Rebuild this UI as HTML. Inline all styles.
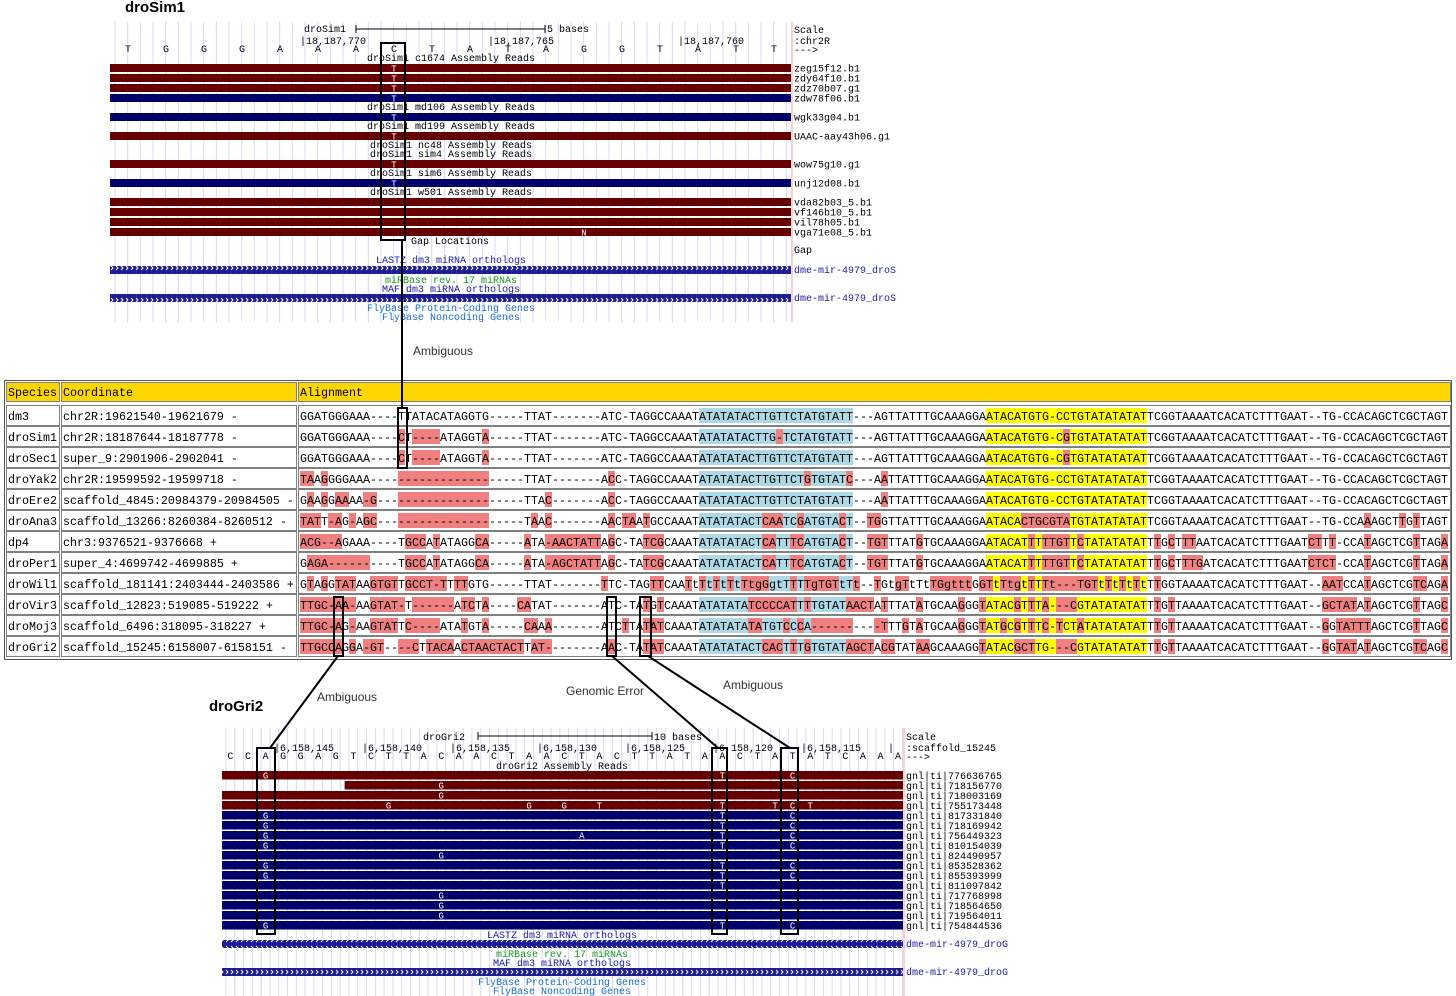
<!DOCTYPE html>
<html><head><meta charset="utf-8">
<style>
html,body{margin:0;padding:0;background:#fff;}
svg{display:block;}
.m{font-family:"Liberation Mono",monospace;}
.s{font-family:"Liberation Sans",sans-serif;}
</style></head>
<body>
<svg id="fig" width="1456" height="996" viewBox="0 0 1456 996" xmlns="http://www.w3.org/2000/svg">
<defs>
<pattern id="chev" x="0" y="0" width="5" height="8" patternUnits="userSpaceOnUse">
<rect width="5" height="8" fill="#1c1c96"/>
<path d="M1,2 L3,4 L1,6" stroke="#fff" stroke-width="1" fill="none"/>
</pattern>
</defs>
<g id="top"></g>
<g id="bot"></g>
<g id="tbl"></g>
<g id="ann"></g>
</svg>
<script>
const species=["dm3","droSim1","droSec1","droYak2","droEre2","droAna3","dp4","droPer1","droWil1","droVir3","droMoj3","droGri2"];
const coords=["chr2R:19621540-19621679 -","chr2R:18187644-18187778 -","super_9:2901906-2902041 -","chr2R:19599592-19599718 -","scaffold_4845:20984379-20984505 -","scaffold_13266:8260384-8260512 -","chr3:9376521-9376668 +","super_4:4699742-4699885 +","scaffold_181141:2403444-2403586 +","scaffold_12823:519085-519222 +","scaffold_6496:318095-318227 +","scaffold_15245:6158007-6158151 -"];
const seqs=[
"GGATGGGAAA----TTATACATAGGTG-----TTAT-------ATC-TAGGCCAAATATATATACTTGTTCTATGTATT---AGTTATTTGCAAAGGAATACATGTG-CCTGTATATATATTCGGTAAAATCACATCTTTGAAT--TG-CCACAGCTCGCTAGT",
"GGATGGGAAA----CT----ATAGGTA-----TTAT-------ATC-TAGGCCAAATATATATACTTG-TCTATGTATT---AGTTATTTGCAAAGGAATACATGTG-CGTGTATATATATTCGGTAAAATCACATCTTTGAAT--TG-CCACAGCTCGCTAGT",
"GGATGGGAAA----CT----ATAGGTA-----TTAT-------ATC-TAGGCCAAATATATATACTTGTTCTATGTATT---AGTTATTTGCAAAGGAATACATGTG-CGTGTATATATATTCGGTAAAATCACATCTTTGAAT--TG-CCACAGCTCGCTAGT",
"TAAGGGGAAA----------------------TTAT-------ACC-TAGGCCAAATATATATACTTGTTCTGTGTATC---AATTATTTGCAAAGGAATACATGTG-CCTGTATATATATTCGGTAAAATCACATCTTTGAAT--TG-CCACAGCTCGCTAGT",
"GAAGGAAAA-G---------------------TTAC-------ACC-TAGGCCAAATATATATACTTGTTCTATGTATT---AATTATTTGCAAAGGAATACATGTG-CCTGTATATATATTCGGTAAAATCACATCTTTGAAT--TG-CCACAGCTCGCTAGT",
"TATT-AG-AGC---------------------TAAC-------AACTAATGCCAAATATATATACTCAATCGATGTACT--TGGTTATTTGCAAAGGAATACACTGCGTATGTATATATATTCGGTAAAATCACATCTTTGAAT--TG-CCAAAGCTTGTTAGT",
"ACG--AGAAA----TGCCATATAGGCA-----ATA-AACTATTAGC-TATCGCAAATATATATACTCATTTCATGTACT--TGTTTATGTGCAAAGGAATACATTTTTGTTCTATATATATTTGCTTTAATCACATCTTTGAATCTTT-CCATAGCTCGTTAGA",
"GAGA----------TGCCATATAGGCA-----ATA-AGCTATTAGC-TATCGCAAATATATATACTCATTTCATGTACT--TGTTTATGTGCAAAGGAATACATTTTTGTTCTATATATATTTGCTTTGATCACATCTTTGAATCTCT-CCATAGCTCGTTAGA",
"GTAGGTATAAGTGTTGCCT-TTTTGTG-----TTAT-------TTC-TAGTTCAATtTtTtTtTtgGgtTTTTgTGTtTt--TGtgTtTtTGgtttGGTtTtgtTTTt---TGTtTtTtTtTTGGTAAAATCACATCTTTGAAT--AATCCATAGCTCGTCAGA",
"TTGC-AA-AAGTAT-T------ATCTA----CATAT-------ATC-TATGTCAAATATATATATCCCCATTTTGTATAACTATTTATATGCAAGGGTATACGTTTA---CGTATATATATTTGTTAAAATCACATCTTTGAAT--GCTATATAGCTCGTTAGC",
["TTGC-AG-AAGTAT","TC----ATATGTA","-----CAAA","-------","ATCTTATATCAAAT","ATATATATATGTCCCA------","---","-TTTGTATGCAAGGGT","ATGCGTTTC-TCTATATATATAT","TTGTTAAAATCACATCTTTGAAT","--GGTATTTAGCTCGTTAGC"].join(""),
["TTGCCAGGA-GT--","--CTTACAACTAA","CTACTTAT-","-------","AAC-TATATCAAAT","ATATATACTCACTTTGTGTATA","GCT","ACGTATAAGCAAAGGT","ATACGCTTG---CGTATATATAT","TTGTTAAAATCACATCTTTGAAT","--GGTATATAGCTCGTCAGC"].join("")
];
// top browser data
const topBases="TGGGAAACTATAGGTATT".split("");
const topReads=[["zeg15f12.b1","m",64,"T",7],["zdy64f10.b1","m",74,"T",7],["zdz70b07.g1","m",84,"T",7],["zdw78f06.b1","n",94,"T",7],["wgk33g04.b1","n",113,"T",7],["UAAC-aay43h06.g1","m",132,"T",7],["wow75g10.g1","m",160,"T",7],["unj12d08.b1","n",179,"T",7],["vda82b03_5.b1","m",198,"",0],["vf146b10_5.b1","m",208,"",0],["vil78h05.b1","m",218,"",0],["vga71e08_5.b1","m",228,"N",12]];
const topTitles=[[58,"droSim1 c1674 Assembly Reads"],[107,"droSim1 md106 Assembly Reads"],[126,"droSim1 md199 Assembly Reads"],[145,"droSim1 nc48 Assembly Reads"],[154,"droSim1 sim4 Assembly Reads"],[173,"droSim1 sim6 Assembly Reads"],[192,"droSim1 w501 Assembly Reads"]];
// bottom browser data
const botBases="CCAGGAGTCTTACAACTAACTACTTATAACTATATCAAA".split("");
const botIds=["776636765","718156770","718003169","755173448","817331840","718169942","756449323","810154039","824490957","853528362","855393999","811097842","717768998","718564650","719564011","754844536"];
const botColors=["m","m","m","m","n","n","n","n","n","n","n","n","n","n","n","n"];
const botStart=[0,6.5,0,0,0,0,0,0,0,0,0,0,0,0,0,0];
const botSnps=[[[2,"G"],[28,"T"],[32,"C"]],[[12,"G"]],[[12,"G"]],[[9,"G"],[17,"G"],[19,"G"],[21,"T"],[28,"T"],[31,"T"],[32,"C"],[33,"T"]],[[2,"G"],[28,"T"],[32,"C"]],[[2,"G"],[28,"T"],[32,"C"]],[[2,"G"],[20,"A"],[28,"T"],[32,"C"]],[[2,"G"],[28,"T"],[32,"C"]],[[12,"G"]],[[2,"G"],[28,"T"],[32,"C"]],[[2,"G"],[28,"T"],[32,"C"]],[[28,"T"]],[[12,"G"]],[[12,"G"]],[[12,"G"]],[[2,"G"],[28,"T"],[32,"C"]]];

const NS="http://www.w3.org/2000/svg";
function mk(parent,tag,attrs,txt){const e=document.createElementNS(NS,tag);for(const k in attrs)e.setAttribute(k,attrs[k]);if(txt!==undefined)e.textContent=txt;parent.appendChild(e);return e;}
const MAROON="#660000",NAVY="#00006a";

function browser(g,o){
  for(let x=o.x0+o.gridOff;x<o.x1;x+=o.grid){const l=mk(g,"line",{x1:x,x2:x,y1:o.gy0,y2:o.gy1,stroke:"#d8d8f4","stroke-width":1});
    }
  const pl=mk(g,"line",{x1:o.x1+1,x2:o.x1+1,y1:o.gy0,y2:o.gy1,stroke:"#f0a0a0","stroke-width":1});
  
}
function txt(g,x,y,s,name,fill,anchor,size,cls){const t=mk(g,"text",{x:x,y:y,"font-size":size||10,fill:fill||"#000","text-anchor":anchor||"start",class:cls||"m"},s);
  return t;}

// ---------- TOP ----------
const T=document.getElementById("top");
browser(T,{x0:110,x1:791,gridOff:5,grid:38/3,gy0:22,gy1:322});
txt(T,125,12,"droSim1","browser-title-drosim1","#000","start",15,"s").setAttribute("font-weight","bold");
txt(T,304,32,"droSim1","scale-species");
mk(T,"line",{x1:356,x2:545,y1:29,y2:29,stroke:"#000"});mk(T,"line",{x1:356,x2:356,y1:25,y2:33,stroke:"#000"});mk(T,"line",{x1:545,x2:545,y1:25,y2:33,stroke:"#000"});
txt(T,547,32,"5 bases","scale-label");
[[300,"|18,187,770"],[488,"|18,187,765"],[678,"|18,187,760"]].forEach(c=>txt(T,c[0],44,c[1],"coordinate-tick"));
topBases.forEach((b,i)=>txt(T,128+38*i,52,b,"base-letter","#000","middle"));
txt(T,794,33,"Scale","scale-text");txt(T,794,44,":chr2R","chrom-label");txt(T,794,53,"--->","strand-arrow");
topTitles.forEach(t=>txt(T,451,t[0]+3,t[1],"track-title","#000","middle"));
topReads.forEach(r=>{const b=mk(T,"rect",{x:110,y:r[2],width:681,height:8,fill:r[1]=="m"?MAROON:NAVY});
  
  if(r[3])txt(T,128+38*r[4],r[2]+7.5,r[3],"read-base","#fff","middle",9);
  txt(T,794,r[2]+7.5,r[0],"read-name");});
txt(T,411,244,"Gap Locations","track-title");txt(T,794,253,"Gap","gap-label");
txt(T,451,263,"LASTZ dm3 miRNA orthologs","track-title","#2020a0","middle");
[[266,"dme-mir-4979_droS"],[294,"dme-mir-4979_droS"]].forEach(c=>{const b=mk(T,"rect",{x:110,y:c[0],width:681,height:8,fill:"url(#chev)"});
  
  txt(T,794,c[0]+7,c[1],"mirna-label","#2020a0");});
txt(T,451,283,"miRBase rev. 17 miRNAs","track-title","#1a9a1a","middle");
txt(T,451,292,"MAF dm3 miRNA orthologs","track-title","#2020a0","middle");
txt(T,451,311,"FlyBase Protein-Coding Genes","track-title","#1a70c8","middle");
txt(T,451,320,"FlyBase Noncoding Genes","track-title","#1a70c8","middle");

// ---------- BOTTOM ----------
const B=document.getElementById("bot");
const bx=i=>230.4+17.57*i;
browser(B,{x0:222,x1:903,gridOff:4,grid:17.57/2,gy0:728,gy1:996});
txt(B,209,711,"droGri2","browser-title-drogri2","#000","start",15,"s").setAttribute("font-weight","bold");
txt(B,423,740,"droGri2","scale-species");
mk(B,"line",{x1:478,x2:652,y1:736,y2:736,stroke:"#000"});mk(B,"line",{x1:478,x2:478,y1:732,y2:740,stroke:"#000"});mk(B,"line",{x1:652,x2:652,y1:732,y2:740,stroke:"#000"});
txt(B,654,740,"10 bases","scale-label");
[[274,"|6,158,145"],[362,"|6,158,140"],[450,"|6,158,135"],[537,"|6,158,130"],[625,"|6,158,125"],[713,"|6,158,120"],[801,"|6,158,115"],[888,"|"]].forEach(c=>txt(B,c[0],751,c[1],"coordinate-tick"));
botBases.forEach((b,i)=>txt(B,bx(i),759,b,"base-letter","#000","middle"));
txt(B,906,740,"Scale","scale-text");txt(B,906,751,":scaffold_15245","chrom-label");txt(B,906,760,"--->","strand-arrow");
txt(B,562,769,"droGri2 Assembly Reads","track-title","#000","middle");
botIds.forEach((id,k)=>{const y=771+10*k;const x0=botStart[k]?bx(botStart[k]):222;
  const b=mk(B,"rect",{x:x0,y:y,width:903-x0,height:8.5,fill:botColors[k]=="m"?MAROON:NAVY});
  
  botSnps[k].forEach(s=>txt(B,bx(s[0]),y+7.5,s[1],"read-base","#fff","middle",9));
  txt(B,906,y+8,"gnl|ti|"+id,"read-name");});
txt(B,562,938,"LASTZ dm3 miRNA orthologs","track-title","#2020a0","middle");
[[940,"dme-mir-4979_droG"],[968,"dme-mir-4979_droG"]].forEach(c=>{const b=mk(B,"rect",{x:222,y:c[0],width:681,height:8,fill:"url(#chev)"});
  
  txt(B,906,c[0]+7,c[1],"mirna-label","#2020a0");});
txt(B,562,957,"miRBase rev. 17 miRNAs","track-title","#1a9a1a","middle");
txt(B,562,966,"MAF dm3 miRNA orthologs","track-title","#2020a0","middle");
txt(B,562,985,"FlyBase Protein-Coding Genes","track-title","#1a70c8","middle");
txt(B,562,994,"FlyBase Noncoding Genes","track-title","#1a70c8","middle");

// ---------- TABLE ----------
const G=document.getElementById("tbl");
const outer=mk(G,"rect",{x:4.5,y:380.5,width:1447,height:279,fill:"#fff",stroke:"#555"});

const cols=[[6,53],[61,235],[298,1152]];
const FS=11.67,CW=7;
["Species","Coordinate","Alignment"].forEach((h,i)=>{const r=mk(G,"rect",{x:cols[i][0]+.5,y:382.5,width:cols[i][1],height:19,fill:"#ffd700",stroke:"#808080"});
  
  txt(G,cols[i][0]+2,396,h,"header-"+h.toLowerCase(),"#000","start",FS);});
const ref=seqs[0];
species.forEach((sp,k)=>{const y=405+21*k;
  cols.forEach(c=>{const r=mk(G,"rect",{x:c[0]+.5,y:y+.5,width:c[1],height:20,fill:"#fff",stroke:"#808080"});
    });
  txt(G,8,y+15,sp,"species-name","#000","start",FS);
  txt(G,63,y+15,coords[k],"coordinate","#000","start",FS);
  const s=seqs[k];
  for(let i=0;i<s.length;i++){let col=null;
    const diff=k>0&&s[i].toUpperCase()!=(ref[i]||"").toUpperCase();
    if(diff)col="#f08080";else if(i>=57&&i<=78)col="#add8e6";else if(i>=98&&i<=120)col="#ffff00";
    if(col){const r=mk(G,"rect",{x:300+CW*i,y:y+3,width:CW,height:15,fill:col});
      }}
  const t=txt(G,300,y+15,s,"alignment-sequence","#000","start",FS);
  t.setAttribute("textLength",CW*s.length);t.setAttribute("lengthAdjust","spacing");
});

// ---------- ANNOTATIONS ----------
const A=document.getElementById("ann");
function box(x,y,w,h){const r=mk(A,"rect",{x:x,y:y,width:w,height:h,fill:"none",stroke:"#000","stroke-width":2});
  }
function ln(x1,y1,x2,y2){const l=mk(A,"line",{x1:x1,y1:y1,x2:x2,y2:y2,stroke:"#000","stroke-width":2});
  }
box(381,43,24,197);ln(402,240,402,408);
box(398,408,9,60);
box(334,597,9,59);box(607,597,9,59);box(640,597,11,59);
ln(338,656,270,748);ln(612,656,718,748);ln(648,656,790,748);
box(257,748,18,186);box(712,748,15,186);box(781,748,17,186);
txt(A,413,355,"Ambiguous","label-ambiguous","#333","start",12,"s");
txt(A,317,701,"Ambiguous","label-ambiguous","#333","start",12,"s");
txt(A,566,695,"Genomic Error","label-genomic-error","#333","start",12,"s");
txt(A,723,689,"Ambiguous","label-ambiguous","#333","start",12,"s");
</script>
</body></html>
